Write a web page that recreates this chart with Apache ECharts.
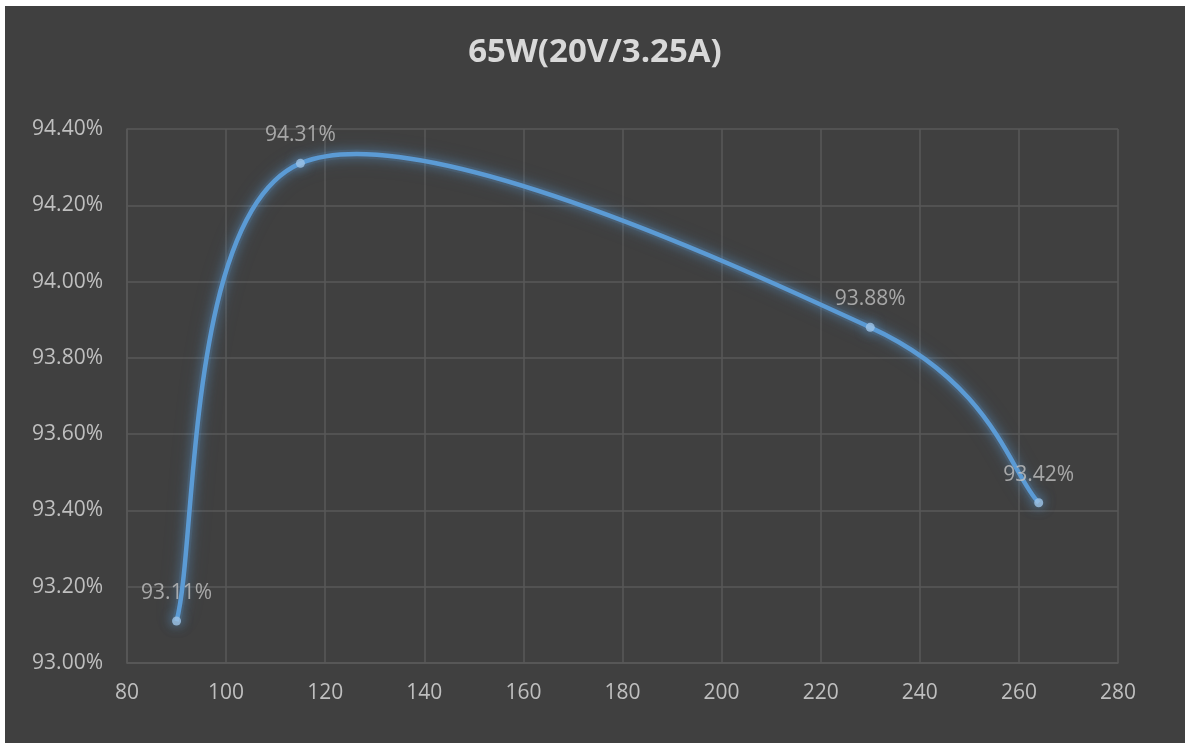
<!DOCTYPE html>
<html>
<head>
<meta charset="utf-8">
<script src="https://cdn.jsdelivr.net/npm/echarts@6/dist/echarts.min.js"></script>
<style>
  html, body { margin: 0; padding: 0; background: #ffffff; }
  #chart { position: absolute; left: 5px; top: 6px; width: 1180px; height: 737px; background: #404040; }
</style>
</head>
<body>
<div id="chart"></div>
<script>
var titleText = '65W(20V/3.25A)';
var inputVoltage = [90, 115, 230, 264];
var efficiency = [93.11, 94.31, 93.88, 93.42];
var xTicks = { min: 80, max: 280, interval: 20 };
var yTicks = { min: 93.0, max: 94.4, interval: 0.2 };

var points = inputVoltage.map(function (v, i) { return [v, efficiency[i]]; });

var chart = echarts.init(document.getElementById('chart'));
var fontFam = '"Open Sans", "Noto Sans", sans-serif';

function renderCurve(params, api) {
  if (params.dataIndex !== 0) return null;
  var p = points.map(function (d) { return api.coord(d); });
  var n = p.length;
  var path = 'M' + p[0][0] + ' ' + p[0][1];
  for (var i = 0; i < n - 1; i++) {
    var p0 = p[i - 1 < 0 ? 0 : i - 1];
    var p1 = p[i];
    var p2 = p[i + 1];
    var p3 = p[i + 2 > n - 1 ? n - 1 : i + 2];
    var c1x = p1[0] + (p2[0] - p0[0]) / 6;
    var c1y = p1[1] + (p2[1] - p0[1]) / 6;
    var c2x = p2[0] - (p3[0] - p1[0]) / 6;
    var c2y = p2[1] - (p3[1] - p1[1]) / 6;
    path += ' C' + c1x + ' ' + c1y + ' ' + c2x + ' ' + c2y + ' ' + p2[0] + ' ' + p2[1];
  }
  return {
    type: 'group',
    children: [
      {
        type: 'path',
        shape: { pathData: path },
        style: {
          fill: null,
          stroke: 'rgba(91,155,213,0.12)',
          lineWidth: 9,
          lineCap: 'round',
          shadowBlur: 22,
          shadowColor: 'rgba(91,155,213,0.9)'
        }
      },
      {
        type: 'path',
        shape: { pathData: path },
        style: {
          fill: null,
          stroke: '#5b9bd5',
          lineWidth: 4.5,
          shadowBlur: 12,
          shadowColor: 'rgba(91,155,213,0.8)'
        }
      }
    ]
  };
}

chart.setOption({
  backgroundColor: '#404040',
  animation: false,
  title: {
    text: titleText,
    left: 'center',
    top: 25,
    textStyle: { color: '#d9d9d9', fontSize: 33, fontWeight: 'bold', fontFamily: fontFam }
  },
  grid: { left: 122, right: 67, top: 123, bottom: 80, containLabel: false },
  xAxis: {
    type: 'value',
    min: xTicks.min, max: xTicks.max, interval: xTicks.interval,
    axisLine: { show: true, lineStyle: { color: '#595959', width: 1.5 } },
    axisTick: { show: false },
    axisLabel: { color: '#bfbfbf', fontSize: 21, fontFamily: fontFam, margin: 20 },
    splitLine: { show: true, lineStyle: { color: '#595959', width: 1.5 } }
  },
  yAxis: {
    type: 'value',
    min: yTicks.min, max: yTicks.max, interval: yTicks.interval,
    axisLine: { show: true, lineStyle: { color: '#595959', width: 1.5 } },
    axisTick: { show: false },
    axisLabel: {
      color: '#bfbfbf', fontSize: 21, fontFamily: fontFam, margin: 24,
      formatter: function (v) { return v.toFixed(2) + '%'; }
    },
    splitLine: { show: true, lineStyle: { color: '#595959', width: 1.5 } }
  },
  series: [
    {
      type: 'custom',
      renderItem: renderCurve,
      data: points,
      z: 2,
      silent: true
    },
    {
      type: 'scatter',
      data: points,
      symbol: 'circle',
      symbolSize: 9,
      z: 3,
      itemStyle: {
        color: '#9dc3e6',
        shadowBlur: 12,
        shadowColor: 'rgba(91,155,213,0.9)'
      },
      label: {
        show: true,
        position: 'top',
        distance: 13,
        color: '#c0c0c0',
        fontSize: 21,
        fontFamily: fontFam,
        formatter: function (p) { return p.value[1].toFixed(2) + '%'; }
      }
    }
  ]
});
</script>
</body>
</html>
